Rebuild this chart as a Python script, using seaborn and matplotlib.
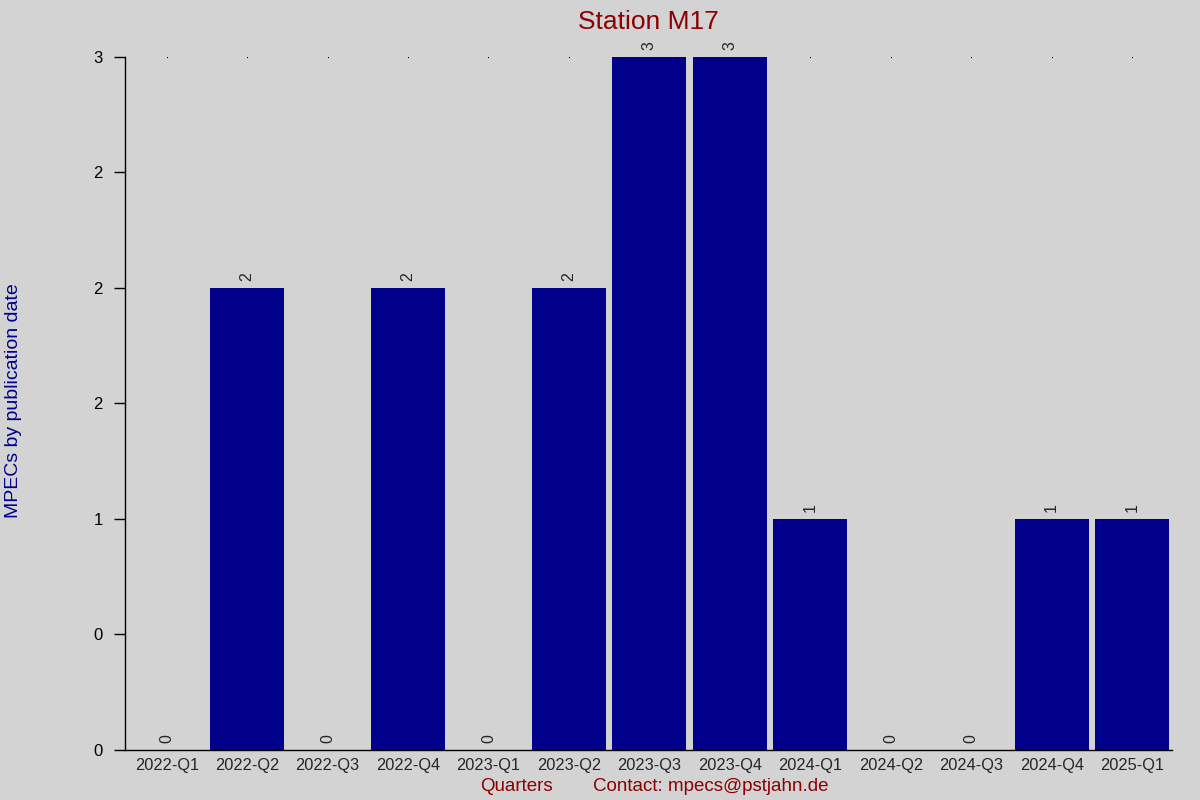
import pandas as pd
import matplotlib
matplotlib.use("Agg")
import matplotlib.pyplot as plt
import seaborn as sns
from matplotlib.ticker import FormatStrFormatter, MultipleLocator

# Data
quarters = ["2022-Q1", "2022-Q2", "2022-Q3", "2022-Q4", "2023-Q1", "2023-Q2", "2023-Q3",
            "2023-Q4", "2024-Q1", "2024-Q2", "2024-Q3", "2024-Q4", "2025-Q1"]
mpecs = [0, 2, 0, 2, 0, 2, 3, 3, 1, 0, 0, 1, 1]

df = pd.DataFrame({"quarter": quarters, "mpecs": mpecs})

# Style
sns.set_style("ticks")
plt.rcParams["font.family"] = ["Liberation Sans", "DejaVu Sans"]
bg = "#d3d3d3"

fig = plt.figure(figsize=(12, 8), dpi=100, facecolor=bg)
ax = fig.add_axes([0.104, 0.0625, 0.873, 0.8665])
ax.set_facecolor(bg)

# Little dots along the top line
ax.plot(range(len(quarters)), [max(mpecs)] * len(quarters), linestyle="none",
        marker="s", markersize=0.8, markeredgewidth=0, color="black", zorder=0)

# Bars
sns.barplot(data=df, x="quarter", y="mpecs", ax=ax, color="#00008b",
            width=0.92, saturation=1, linewidth=0, zorder=2)

# Value labels
ax.bar_label(ax.containers[0], labels=[str(v) for v in mpecs], rotation=90,
             padding=5, fontsize=11.5)

# Titles
ax.set_title("Station M17", color="#8b0000", fontsize=19, pad=20)
ax.set_ylabel("")
ax.set_xlabel("")
fig.text(0.011, 0.499, "MPECs by publication date", color="#00008b", fontsize=14,
         rotation=90, ha="center", va="center")
fig.text(0.43, 0.011, "Quarters", color="#8b0000", fontsize=13.5, ha="center")
fig.text(0.592, 0.011, "Contact: mpecs@pstjahn.de", color="#8b0000", fontsize=13.5, ha="center")

# Axes design
ax.set_ylim(0, 3)
ax.set_xlim(-0.52, 12.5)
ax.yaxis.set_major_locator(MultipleLocator(0.5))
ax.yaxis.set_major_formatter(FormatStrFormatter("%.0f"))
ax.tick_params(axis="y", length=8, width=1, labelsize=12, pad=8, colors="black")
ax.tick_params(axis="x", length=0, labelsize=11.8, pad=6)
for side in ["top", "right"]:
    ax.spines[side].set_visible(False)
for side in ["left", "bottom"]:
    ax.spines[side].set_color("black")
    ax.spines[side].set_linewidth(1)
ax.grid(False)

fig.savefig("out.png", dpi=100, facecolor=bg)
plt.close(fig)
